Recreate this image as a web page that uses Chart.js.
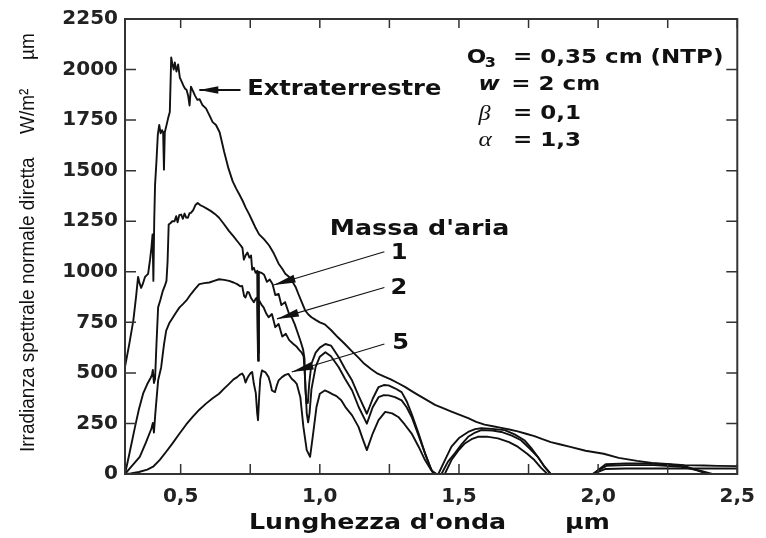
<!DOCTYPE html>
<html>
<head>
<meta charset="utf-8">
<script src="https://cdn.jsdelivr.net/npm/chart.js@4.4.0/dist/chart.umd.min.js"></script>
<style>
  body { margin: 0; background: #fff; }
  canvas { display: block; }
</style>
</head>
<body>
<canvas id="canvas" width="766" height="538"></canvas>
<script>
// [wavelength µm, irradiance W/m² µm]
const extraterrestre = [
  [0.300,530],[0.315,640],[0.330,760],[0.340,880],[0.347,975],[0.352,945],[0.358,920],[0.364,940],
  [0.372,975],[0.383,990],[0.390,1060],[0.395,1120],[0.399,1185],[0.402,955],[0.405,1250],[0.408,1430],
  [0.413,1546],[0.418,1680],[0.423,1726],[0.428,1685],[0.433,1700],[0.437,1690],[0.440,1505],[0.443,1690],
  [0.449,1724],[0.455,1760],[0.461,1790],[0.466,2060],[0.470,2030],[0.475,2000],[0.479,2035],[0.485,1990],
  [0.491,2025],[0.497,1960],[0.502,1945],[0.510,1920],[0.516,1905],[0.521,1900],[0.527,1870],[0.532,1822],
  [0.537,1915],[0.544,1895],[0.552,1870],[0.560,1850],[0.568,1853],[0.578,1825],[0.591,1808],[0.603,1775],
  [0.615,1740],[0.627,1726],[0.640,1690],[0.656,1595],[0.672,1510],[0.687,1447],[0.700,1410],[0.711,1382],
  [0.723,1350],[0.734,1316],[0.746,1285],[0.758,1250],[0.770,1215],[0.782,1185],[0.800,1160],[0.818,1130],
  [0.835,1090],[0.852,1040],[0.865,1015],[0.876,990],[0.889,975],[0.900,955],[0.913,925],[0.923,890],
  [0.935,850],[0.947,810],[0.958,790],[0.970,775],[0.985,762],[1.000,750],[1.018,740],[1.040,712],
  [1.065,676],[1.090,643],[1.113,610],[1.137,578],[1.160,545],[1.185,518],[1.208,496],[1.232,482],
  [1.255,468],[1.280,450],[1.306,431],[1.330,410],[1.354,390],[1.385,365],[1.414,342],[1.445,325],
  [1.473,309],[1.503,292],[1.533,276],[1.562,258],[1.592,244],[1.622,236],[1.652,228],[1.681,220],
  [1.711,211],[1.741,199],[1.771,187],[1.800,172],[1.830,158],[1.865,146],[1.900,134],[1.955,115],
  [2.020,100],[2.074,80],[2.140,65],[2.193,55],[2.260,48],[2.311,44],[2.380,42],[2.430,40],[2.500,39]
];

const massaAria1 = [
  [0.300,0],[0.315,95],[0.336,233],[0.350,320],[0.365,397],[0.380,445],[0.392,475],[0.397,490],
  [0.400,515],[0.404,450],[0.408,470],[0.413,640],[0.419,824],[0.427,860],[0.436,906],[0.443,930],
  [0.449,955],[0.453,1050],[0.457,1234],[0.463,1240],[0.470,1250],[0.478,1250],[0.484,1275],[0.489,1245],
  [0.495,1280],[0.502,1283],[0.508,1262],[0.514,1288],[0.520,1268],[0.526,1267],[0.532,1290],[0.537,1291],
  [0.545,1305],[0.553,1330],[0.561,1340],[0.570,1330],[0.579,1324],[0.594,1312],[0.609,1300],[0.624,1285],
  [0.638,1267],[0.656,1235],[0.674,1201],[0.690,1175],[0.703,1152],[0.713,1135],[0.722,1118],[0.727,1060],
  [0.733,1080],[0.740,1095],[0.747,1070],[0.753,1080],[0.757,1010],[0.763,1020],[0.769,995],[0.775,1005],
  [0.778,600],[0.781,1000],[0.790,995],[0.800,985],[0.810,950],[0.820,962],[0.830,940],[0.840,885],
  [0.852,890],[0.862,835],[0.875,850],[0.890,790],[0.900,772],[0.910,740],[0.920,700],[0.930,660],
  [0.940,615],[0.945,570],[0.948,420],[0.952,350],[0.957,352],[0.962,450],[0.970,545],[0.985,600],
  [1.000,625],[1.020,643],[1.040,635],[1.068,577],[1.090,522],[1.116,462],[1.140,385],[1.169,298],
  [1.190,372],[1.211,430],[1.230,440],[1.247,438],[1.270,424],[1.294,405],[1.312,360],[1.330,298],
  [1.355,200],[1.378,102],[1.395,40],[1.408,0],[1.426,0],[1.450,70],[1.473,135],[1.500,178],
  [1.533,208],[1.558,222],[1.580,226],[1.620,223],[1.664,217],[1.700,196],[1.735,167],[1.760,128],
  [1.783,85],[1.808,35],[1.830,0],[1.985,0],[2.000,20],[2.027,48],[2.100,52],[2.170,52],
  [2.250,48],[2.320,35],[2.393,0],[2.500,0]
];

const massaAria2 = [
  [0.300,0],[0.325,40],[0.353,85],[0.375,155],[0.395,225],[0.400,252],[0.404,205],[0.409,300],
  [0.419,463],[0.430,528],[0.440,640],[0.448,709],[0.460,748],[0.472,774],[0.484,800],[0.496,824],
  [0.508,840],[0.520,857],[0.537,890],[0.552,915],[0.567,939],[0.585,944],[0.603,947],[0.620,955],
  [0.638,963],[0.656,960],[0.674,955],[0.690,947],[0.703,939],[0.714,928],[0.721,930],[0.728,880],
  [0.733,873],[0.740,900],[0.745,898],[0.753,870],[0.763,849],[0.770,868],[0.775,873],[0.778,560],
  [0.781,860],[0.790,838],[0.798,824],[0.808,792],[0.816,775],[0.828,791],[0.840,726],[0.852,742],
  [0.865,680],[0.878,693],[0.890,662],[0.905,643],[0.915,632],[0.925,615],[0.935,600],[0.942,580],
  [0.948,450],[0.953,300],[0.958,255],[0.963,300],[0.970,420],[0.985,530],[1.000,580],[1.020,602],
  [1.040,582],[1.068,528],[1.090,472],[1.116,413],[1.140,330],[1.169,249],[1.190,330],[1.211,380],
  [1.230,390],[1.247,389],[1.270,380],[1.294,364],[1.312,330],[1.330,282],[1.355,190],[1.378,102],
  [1.402,16],[1.420,0],[1.437,0],[1.460,60],[1.485,102],[1.510,148],[1.533,184],[1.558,205],
  [1.580,217],[1.620,215],[1.652,208],[1.690,190],[1.723,167],[1.755,125],[1.783,85],[1.808,35],
  [1.830,0],[1.980,0],[2.000,18],[2.030,40],[2.100,44],[2.200,44],[2.300,36],[2.370,15],
  [2.410,0],[2.500,0]
];

const massaAria5 = [
  [0.300,0],[0.320,3],[0.350,10],[0.380,22],[0.401,36],[0.425,70],[0.448,110],[0.470,150],
  [0.496,200],[0.520,245],[0.543,282],[0.567,318],[0.591,348],[0.615,375],[0.638,397],[0.656,422],
  [0.674,446],[0.690,468],[0.703,479],[0.712,490],[0.721,497],[0.727,483],[0.733,452],[0.739,472],
  [0.745,487],[0.752,500],[0.757,504],[0.763,446],[0.770,400],[0.775,300],[0.778,266],[0.782,380],
  [0.786,470],[0.792,512],[0.798,508],[0.804,504],[0.816,479],[0.822,450],[0.828,413],[0.839,405],
  [0.846,440],[0.852,463],[0.864,479],[0.876,490],[0.887,495],[0.899,471],[0.908,460],[0.917,446],
  [0.930,380],[0.941,233],[0.953,118],[0.965,85],[0.976,200],[0.988,331],[1.000,397],[1.018,413],
  [1.032,405],[1.045,395],[1.060,385],[1.077,365],[1.092,331],[1.116,290],[1.139,233],[1.155,170],
  [1.169,118],[1.190,200],[1.211,266],[1.235,307],[1.260,300],[1.282,282],[1.305,245],[1.330,200],
  [1.355,135],[1.378,69],[1.400,20],[1.414,0],[1.449,0],[1.473,69],[1.500,120],[1.521,151],
  [1.545,172],[1.568,184],[1.600,185],[1.640,176],[1.680,158],[1.711,135],[1.745,100],[1.771,69],
  [1.795,30],[1.818,0],[1.985,0],[2.000,10],[2.027,25],[2.100,27],[2.200,27],[2.300,27],
  [2.400,27],[2.500,27]
];

const xRange = [0.3, 2.5];
const yRange = [0, 2250];
const xStep = 0.25;   // tick marks every 0.25 µm, labels every 0.5
const yStep = 250;

const BOLD = "'DejaVu Sans', sans-serif";
const STRETCH = 1.15;

const toPoints = rows => rows.map(([x, y]) => ({ x, y }));

function wideText(ctx, str, px, py, font, align, stretch) {
  const k = stretch || STRETCH;
  ctx.save();
  ctx.font = font;
  ctx.textAlign = align || 'left';
  ctx.textBaseline = 'middle';
  ctx.translate(px, py);
  ctx.scale(k, 1);
  ctx.fillText(str, 0, 0);
  ctx.restore();
}

function arrow(ctx, from, to, len, half) {
  const ang = Math.atan2(to[1] - from[1], to[0] - from[0]);
  ctx.beginPath();
  ctx.moveTo(from[0], from[1]);
  ctx.lineTo(to[0], to[1]);
  ctx.stroke();
  ctx.save();
  ctx.translate(to[0], to[1]);
  ctx.rotate(ang);
  ctx.beginPath();
  ctx.moveTo(0, 0);
  ctx.lineTo(-len, -half);
  ctx.lineTo(-len, half);
  ctx.closePath();
  ctx.fill();
  ctx.restore();
}

// box, inward ticks, labels and arrows
const notes = {
  id: 'notes',
  afterDraw(chart) {
    const { ctx, chartArea: a, scales: { x, y } } = chart;
    const P = (wl, v) => [x.getPixelForValue(wl), y.getPixelForValue(v)];
    ctx.save();

    ctx.strokeStyle = '#333';
    ctx.lineWidth = 2;
    ctx.strokeRect(a.left, a.top, a.right - a.left, a.bottom - a.top);

    ctx.lineWidth = 1.5;
    ctx.beginPath();
    x.ticks.forEach(t => {
      const px = x.getPixelForValue(t.value);
      ctx.moveTo(px, a.bottom); ctx.lineTo(px, a.bottom - 10);
      ctx.moveTo(px, a.top); ctx.lineTo(px, a.top + 9);
    });
    y.ticks.forEach(t => {
      const py = y.getPixelForValue(t.value);
      ctx.moveTo(a.left, py); ctx.lineTo(a.left + 11, py);
      ctx.moveTo(a.right, py); ctx.lineTo(a.right - 11, py);
    });
    ctx.stroke();

    ctx.fillStyle = '#111';
    ctx.strokeStyle = '#111';

    // Extraterrestre
    let p = P(0.739, 1903);
    wideText(ctx, 'Extraterrestre', p[0], p[1], 'bold 21px ' + BOLD);
    ctx.lineWidth = 1.8;
    arrow(ctx, P(0.715, 1899), P(0.567, 1899), 19, 3.8);

    // atmosphere parameters
    p = P(1.528, 2056);
    wideText(ctx, 'O', p[0], p[1], 'bold 20px ' + BOLD);
    p = P(1.593, 2056);
    wideText(ctx, '3', p[0], p[1] + 5, 'bold 14px ' + BOLD);
    p = P(1.694, 2056);
    wideText(ctx, '= 0,35 cm (NTP)', p[0], p[1], 'bold 20px ' + BOLD);

    p = P(1.570, 1923);
    wideText(ctx, 'w', p[0], p[1], 'italic bold 20px ' + BOLD);
    p = P(1.688, 1923);
    wideText(ctx, '= 2 cm', p[0], p[1], 'bold 20px ' + BOLD);

    p = P(1.570, 1780);
    wideText(ctx, 'β', p[0], p[1], "italic 21px 'Liberation Serif', serif");
    p = P(1.694, 1780);
    wideText(ctx, '= 0,1', p[0], p[1], 'bold 20px ' + BOLD);

    p = P(1.570, 1649);
    wideText(ctx, 'α', p[0], p[1], "italic 22px 'Liberation Serif', serif");
    p = P(1.694, 1649);
    wideText(ctx, '= 1,3', p[0], p[1], 'bold 20px ' + BOLD);

    // air mass labels and leaders
    p = P(1.036, 1211);
    wideText(ctx, "Massa d'aria", p[0], p[1], 'bold 22px ' + BOLD);
    p = P(1.285, 1090);
    wideText(ctx, '1', p[0], p[1], 'bold 21px ' + BOLD, 'center');
    p = P(1.284, 918);
    wideText(ctx, '2', p[0], p[1], 'bold 21px ' + BOLD, 'center');
    p = P(1.290, 647);
    wideText(ctx, '5', p[0], p[1], 'bold 21px ' + BOLD, 'center');

    ctx.lineWidth = 1.1;
    arrow(ctx, P(1.232, 1099), P(0.834, 935), 22, 4);
    arrow(ctx, P(1.232, 922), P(0.846, 767), 22, 4);
    arrow(ctx, P(1.232, 643), P(0.899, 504), 22, 4);

    // axis titles
    wideText(ctx, "Lunghezza d'onda", 249, 523, 'bold 22px ' + BOLD);
    wideText(ctx, 'µm', 565, 523, 'bold 22px ' + BOLD);

    const titleFont = "20px 'Liberation Sans', Arial, sans-serif";
    [['Irradianza spettrale normale diretta', 452], ['W/m²', 134], ['µm', 60]].forEach(([s, py]) => {
      ctx.save();
      ctx.translate(28, py);
      ctx.rotate(-Math.PI / 2);
      wideText(ctx, s, 0, 0, titleFont, 'left', 0.95);
      ctx.restore();
    });

    ctx.restore();
  }
};

const tickFont = { family: 'DejaVu Sans', weight: 'bold', size: 20 };
const line = rows => ({
  data: toPoints(rows),
  borderColor: '#111',
  borderWidth: 1.9,
  pointRadius: 0,
  tension: 0,
  borderJoinStyle: 'round'
});

const ctx = document.getElementById('canvas').getContext('2d');

const myChart = new Chart(ctx, {
  type: 'line',
  data: {
    datasets: [
      { label: 'Extraterrestre', ...line(extraterrestre) },
      { label: "Massa d'aria 1", ...line(massaAria1) },
      { label: "Massa d'aria 2", ...line(massaAria2) },
      { label: "Massa d'aria 5", ...line(massaAria5) }
    ]
  },
  options: {
    responsive: false,
    animation: false,
    layout: { padding: { top: 17, right: 23, left: 0, bottom: 0 } },
    plugins: {
      legend: { display: false },
      tooltip: { enabled: false }
    },
    scales: {
      x: {
        type: 'linear',
        min: xRange[0],
        max: xRange[1],
        grid: { display: false, drawTicks: false },
        border: { display: false },
        ticks: {
          stepSize: xStep,
          includeBounds: false,
          autoSkip: false,
          maxRotation: 0,
          padding: 11,
          color: '#222',
          font: tickFont,
          callback: v => Math.abs(v * 2 - Math.round(v * 2)) < 1e-6 ? v.toFixed(1).replace('.', ',') : ''
        },
        afterFit: s => { s.height = 64; }
      },
      y: {
        min: yRange[0],
        max: yRange[1],
        grid: { display: false, drawTicks: false },
        border: { display: false },
        ticks: {
          stepSize: yStep,
          padding: 7,
          color: '#222',
          font: tickFont,
          callback: v => String(v)
        },
        afterFit: s => { s.width = 125; }
      }
    }
  },
  plugins: [notes]
});
</script>
</body>
</html>
